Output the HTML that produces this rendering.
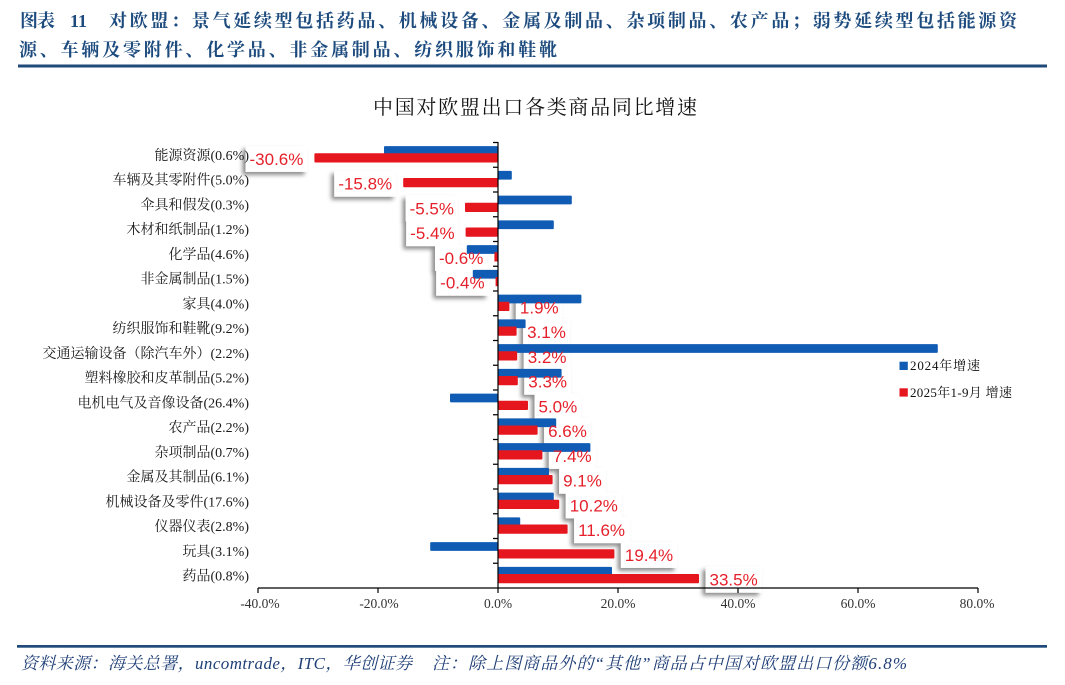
<!DOCTYPE html>
<html>
<head>
<meta charset="utf-8">
<style>
  html,body{margin:0;padding:0;background:#fff;}
  svg{display:block;}
  .hd{font-family:"Liberation Serif","Noto Serif CJK SC",serif;font-weight:700;fill:#1D4B7E;font-size:18px;}
  .ttl{font-family:"Liberation Serif","Noto Serif CJK SC",serif;font-size:20px;fill:#111;}
  .yl{font-family:"Liberation Serif","Noto Serif CJK SC",serif;font-size:14px;fill:#1a1a1a;text-anchor:end;}
  .xl{font-family:"Liberation Serif","Noto Serif CJK SC",serif;font-size:13.5px;fill:#333;text-anchor:middle;}
  .dl{font-family:"Liberation Sans","Noto Sans CJK SC",sans-serif;font-size:17px;fill:#E5202A;}
  .lg{font-family:"Liberation Serif","Noto Serif CJK SC",serif;font-size:13px;fill:#111;}
  .ft{font-family:"Liberation Serif","Noto Serif CJK SC",serif;font-size:17px;fill:#1F3F77;font-style:italic;}
</style>
</head>
<body>
<svg width="1065" height="685" viewBox="0 0 1065 685" xmlns="http://www.w3.org/2000/svg">
<defs>
  <filter id="sh" x="-30%" y="-30%" width="160%" height="170%">
    <feDropShadow dx="-3" dy="3" stdDeviation="2" flood-color="#000" flood-opacity="0.45"/>
  </filter>
</defs>
<rect x="0" y="0" width="1065" height="685" fill="#fff"/>

<!-- Header -->
<text class="hd" x="20" y="27" textLength="35" lengthAdjust="spacing">图表</text>
<text class="hd" x="70" y="27">11</text>
<text class="hd" x="109" y="27" textLength="908" lengthAdjust="spacing">对欧盟：景气延续型包括药品、机械设备、金属及制品、杂项制品、农产品；弱势延续型包括能源资</text>
<text class="hd" x="19" y="56" textLength="538" lengthAdjust="spacing">源、车辆及零附件、化学品、非金属制品、纺织服饰和鞋靴</text>
<rect x="18" y="64.5" width="1029" height="3" fill="#1F4A7A"/>

<!-- Chart title -->
<text class="ttl" x="373" y="114" textLength="324" lengthAdjust="spacing">中国对欧盟出口各类商品同比增速</text>

<!-- Label boxes (drawn under bars) -->
<g fill="#fff" filter="url(#sh)">
  <rect x="245.5" y="145.88" width="61.9" height="26"/>
  <rect x="334.3" y="170.63" width="61.9" height="26"/>
  <rect x="405.6" y="195.38" width="52.4" height="26"/>
  <rect x="406.2" y="220.13" width="52.4" height="26"/>
  <rect x="435" y="244.88" width="52.4" height="26"/>
  <rect x="436.2" y="269.63" width="52.4" height="26"/>
  <rect x="515.9" y="294.38" width="46.7" height="26"/>
  <rect x="523.1" y="319.13" width="46.7" height="26"/>
  <rect x="523.7" y="343.88" width="46.7" height="26"/>
  <rect x="524.3" y="368.63" width="46.7" height="26"/>
  <rect x="534.5" y="393.38" width="46.7" height="26"/>
  <rect x="544.1" y="418.13" width="46.7" height="26"/>
  <rect x="548.9" y="442.88" width="46.7" height="26"/>
  <rect x="559.1" y="467.63" width="46.7" height="26"/>
  <rect x="565.7" y="492.38" width="56.2" height="26"/>
  <rect x="574.1" y="517.13" width="56.2" height="26"/>
  <rect x="620.9" y="541.88" width="56.2" height="26"/>
  <rect x="705.5" y="566.63" width="56.2" height="26"/>
</g>

<!-- Blue bars (2024) -->
<g fill="#105CB4">
  <rect x="384" y="146.08" width="114" height="8.8" rx="1"/>
  <rect x="498" y="170.83" width="13.8" height="8.8" rx="1"/>
  <rect x="498" y="195.58" width="73.8" height="8.8" rx="1"/>
  <rect x="498" y="220.33" width="55.8" height="8.8" rx="1"/>
  <rect x="466.8" y="245.08" width="31.2" height="8.8" rx="1"/>
  <rect x="472.8" y="269.83" width="25.2" height="8.8" rx="1"/>
  <rect x="498" y="294.58" width="83.4" height="8.8" rx="1"/>
  <rect x="498" y="319.33" width="27.6" height="8.8" rx="1"/>
  <rect x="498" y="344.08" width="439.8" height="8.8" rx="1"/>
  <rect x="498" y="368.83" width="63.6" height="8.8" rx="1"/>
  <rect x="450" y="393.58" width="48" height="8.8" rx="1"/>
  <rect x="498" y="418.33" width="58.2" height="8.8" rx="1"/>
  <rect x="498" y="443.08" width="92.4" height="8.8" rx="1"/>
  <rect x="498" y="467.83" width="51" height="8.8" rx="1"/>
  <rect x="498" y="492.58" width="55.8" height="8.8" rx="1"/>
  <rect x="498" y="517.33" width="22.2" height="8.8" rx="1"/>
  <rect x="430.2" y="542.08" width="67.8" height="8.8" rx="1"/>
  <rect x="498" y="566.83" width="114" height="8.8" rx="1"/>
</g>

<!-- Red bars (2025 1-9) -->
<g fill="#E6161E">
  <rect x="314.4" y="153.28" width="183.6" height="9.2" rx="1"/>
  <rect x="403.2" y="178.03" width="94.8" height="9.2" rx="1"/>
  <rect x="465" y="202.78" width="33" height="9.2" rx="1"/>
  <rect x="465.6" y="227.53" width="32.4" height="9.2" rx="1"/>
  <rect x="494.4" y="252.28" width="3.6" height="9.2"/>
  <rect x="495.6" y="277.03" width="2.4" height="9.2"/>
  <rect x="498" y="301.78" width="11.4" height="9.2" rx="1"/>
  <rect x="498" y="326.53" width="18.6" height="9.2" rx="1"/>
  <rect x="498" y="351.28" width="19.2" height="9.2" rx="1"/>
  <rect x="498" y="376.03" width="19.8" height="9.2" rx="1"/>
  <rect x="498" y="400.78" width="30" height="9.2" rx="1"/>
  <rect x="498" y="425.53" width="39.6" height="9.2" rx="1"/>
  <rect x="498" y="450.28" width="44.4" height="9.2" rx="1"/>
  <rect x="498" y="475.03" width="54.6" height="9.2" rx="1"/>
  <rect x="498" y="499.78" width="61.2" height="9.2" rx="1"/>
  <rect x="498" y="524.53" width="69.6" height="9.2" rx="1"/>
  <rect x="498" y="549.28" width="116.4" height="9.2" rx="1"/>
  <rect x="498" y="574.03" width="201" height="9.2" rx="1"/>
</g>

<!-- Data labels -->
<g class="dl">
  <text x="303.4" y="164.88" text-anchor="end">-30.6%</text>
  <text x="392.2" y="189.63" text-anchor="end">-15.8%</text>
  <text x="454" y="214.38" text-anchor="end">-5.5%</text>
  <text x="454.6" y="239.13" text-anchor="end">-5.4%</text>
  <text x="483.4" y="263.88" text-anchor="end">-0.6%</text>
  <text x="484.6" y="288.63" text-anchor="end">-0.4%</text>
  <text x="519.9" y="313.38">1.9%</text>
  <text x="527.1" y="338.13">3.1%</text>
  <text x="527.7" y="362.88">3.2%</text>
  <text x="528.3" y="387.63">3.3%</text>
  <text x="538.5" y="412.38">5.0%</text>
  <text x="548.1" y="437.13">6.6%</text>
  <text x="552.9" y="461.88">7.4%</text>
  <text x="563.1" y="486.63">9.1%</text>
  <text x="569.7" y="511.38">10.2%</text>
  <text x="578.1" y="536.13">11.6%</text>
  <text x="624.9" y="560.88">19.4%</text>
  <text x="709.5" y="585.63">33.5%</text>
</g>

<!-- Axes -->
<g stroke="#000" stroke-width="1.2" fill="none">
  <line x1="498" y1="142" x2="498" y2="588.5"/>
  <line x1="258" y1="588" x2="978" y2="588"/>
  <path d="M493 142.5H498M493 167.25H498M493 192H498M493 216.75H498M493 241.5H498M493 266.25H498M493 291H498M493 315.75H498M493 340.5H498M493 365.25H498M493 390H498M493 414.75H498M493 439.5H498M493 464.25H498M493 489H498M493 513.75H498M493 538.5H498M493 563.25H498"/>
  <path d="M258 588V593M378 588V593M498 588V593M618 588V593M738 588V593M858 588V593M978 588V593"/>
</g>

<!-- X tick labels -->
<g class="xl">
  <text x="260" y="608">-40.0%</text>
  <text x="379" y="608">-20.0%</text>
  <text x="498" y="608">0.0%</text>
  <text x="618" y="608">20.0%</text>
  <text x="738" y="608">40.0%</text>
  <text x="858" y="608">60.0%</text>
  <text x="977" y="608">80.0%</text>
</g>

<!-- Y category labels -->
<g class="yl">
  <text x="249" y="160">能源资源(0.6%)</text>
  <text x="249" y="184.7">车辆及其零附件(5.0%)</text>
  <text x="249" y="209.4">伞具和假发(0.3%)</text>
  <text x="249" y="234.1">木材和纸制品(1.2%)</text>
  <text x="249" y="258.9">化学品(4.6%)</text>
  <text x="249" y="283.6">非金属制品(1.5%)</text>
  <text x="249" y="308.4">家具(4.0%)</text>
  <text x="249" y="333.1">纺织服饰和鞋靴(9.2%)</text>
  <text x="249" y="357.9">交通运输设备（除汽车外）(2.2%)</text>
  <text x="249" y="382.6">塑料橡胶和皮革制品(5.2%)</text>
  <text x="249" y="407.4">电机电气及音像设备(26.4%)</text>
  <text x="249" y="432.1">农产品(2.2%)</text>
  <text x="249" y="456.9">杂项制品(0.7%)</text>
  <text x="249" y="481.6">金属及其制品(6.1%)</text>
  <text x="249" y="506.4">机械设备及零件(17.6%)</text>
  <text x="249" y="531.1">仪器仪表(2.8%)</text>
  <text x="249" y="555.9">玩具(3.1%)</text>
  <text x="249" y="580.6">药品(0.8%)</text>
</g>

<!-- Legend -->
<rect x="899.5" y="361.7" width="8.3" height="8.3" fill="#105CB4"/>
<text class="lg" x="910" y="370" textLength="70" lengthAdjust="spacing">2024年增速</text>
<rect x="899.5" y="388.3" width="8.3" height="8.3" fill="#E6161E"/>
<text class="lg" x="910" y="397" textLength="102" lengthAdjust="spacing">2025年1-9月 增速</text>

<!-- Footer -->
<rect x="17" y="645" width="1030" height="2.7" fill="#1F4A7A"/>
<text class="ft" x="21" y="669" textLength="391" lengthAdjust="spacing">资料来源：海关总署，uncomtrade，ITC，华创证券</text>
<text class="ft" x="432" y="669" textLength="475" lengthAdjust="spacing">注：除上图商品外的“其他”商品占中国对欧盟出口份额6.8%</text>
</svg>
</body>
</html>
